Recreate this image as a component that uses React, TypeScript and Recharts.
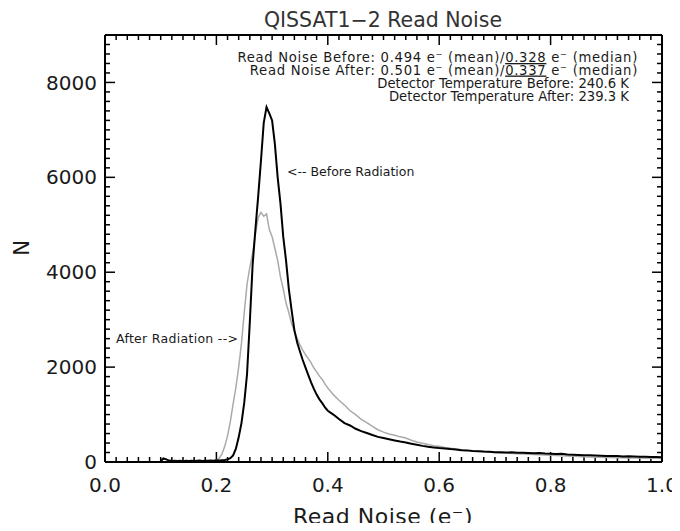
import { LineChart, Line, XAxis, YAxis, ReferenceLine } from 'recharts';

// read noise bins (e-)
const readNoise = [
    0.1, 0.105, 0.11, 0.115, 0.12, 0.125, 0.13, 0.135, 0.14, 0.145,
    0.15, 0.155, 0.16, 0.165, 0.17, 0.175, 0.18, 0.185, 0.19, 0.195,
    0.2, 0.205, 0.21, 0.215, 0.22, 0.225, 0.23, 0.235, 0.24, 0.245,
    0.25, 0.255, 0.26, 0.265, 0.27, 0.275, 0.28, 0.285, 0.29, 0.295,
    0.3, 0.305, 0.31, 0.315, 0.32, 0.325, 0.33, 0.335, 0.34, 0.345,
    0.35, 0.355, 0.36, 0.365, 0.37, 0.375, 0.38, 0.385, 0.39, 0.395,
    0.4,
    0.41, 0.42, 0.43, 0.44, 0.45, 0.46, 0.47, 0.48, 0.49, 0.5,
    0.51, 0.52, 0.53, 0.54, 0.55, 0.56, 0.57, 0.58, 0.59, 0.6,
    0.61, 0.62, 0.63, 0.64, 0.65, 0.66, 0.67, 0.68, 0.69, 0.7,
    0.71, 0.72, 0.73, 0.74, 0.75, 0.76, 0.77, 0.78, 0.79, 0.8,
    0.81, 0.82, 0.83, 0.84, 0.85, 0.86, 0.87, 0.88, 0.89, 0.9,
    0.91, 0.92, 0.93, 0.94, 0.95, 0.96, 0.97, 0.98, 0.99, 1.0,
];

const beforeRadiation = [
    20, 75, 55, 30, 22, 28, 20, 25, 18, 26,
    22, 28, 20, 25, 30, 22, 28, 25, 32, 28,
    35, 30, 38, 42, 55, 80, 140, 280, 520, 820,
    1250, 1850, 2950, 4150, 4900, 5600, 6350, 7150, 7480, 7350,
    7200, 6700, 6000, 5450, 4750, 4250, 3650, 3200, 2780, 2520,
    2330, 2150, 1990, 1830, 1680, 1540, 1420, 1320, 1240, 1150,
    1080,
    1000, 905, 820, 770, 700, 650, 610, 570, 530, 505,
    480, 455, 430, 410, 385, 362, 340, 322, 308, 295,
    285, 272, 265, 250, 245, 232, 228, 220, 215, 208,
    205, 200, 203, 196, 195, 190, 185, 188, 178, 176,
    170, 172, 160, 155, 150, 142, 140, 135, 132, 128,
    127, 125, 118, 120, 115, 112, 110, 106, 104, 100,
];

const afterRadiation = [
    null, null, null, null, null, null, null, null, null, null,
    null, null, null, null, null, null, 20, 22, 25, 28,
    40, 80, 170, 330, 550, 850, 1220, 1570, 2000, 2500,
    3150, 3750, 4100, 4400, 4800, 5150, 5260, 5180, 5230, 4900,
    4750, 4500, 4250, 3900, 3650, 3350, 3150, 2920, 2750, 2600,
    2470, 2360, 2260, 2180, 2090, 1980, 1900, 1810, 1740, 1640,
    1560,
    1420, 1300, 1200, 1080, 1000, 900, 830, 750, 680, 630,
    590, 565, 530, 505, 460, 420, 395, 370, 345, 330,
    305, 290, 272, 258, 245, 232, 225, 218, 208, 200,
    192, 188, 180, 172, 168, 162, 158, 152, 148, 142,
    135, 130, 125, 120, 115, 110, 108, 102, 100, 96,
    94, 90, 88, 86, 84, 82, 80, 78, 78, 76,
];

const xMajorTicks = [0, 0.2, 0.4, 0.6, 0.8, 1.0];
const yMajorTicks = [0, 2000, 4000, 6000, 8000];
const xMinorTicks = Array.from({ length: 51 }, (_, i) => (i * 2) / 100);
const yMinorTicks = Array.from({ length: 46 }, (_, i) => i * 200);

const X_MAX = 1;
const Y_MAX = 9000;

const data = readNoise.map((x, i) => ({ x, before: beforeRadiation[i], after: afterRadiation[i] }));

const FONT = '"DejaVu Sans", sans-serif';
const INK = '#1a1a1a';

// inward tick lengths: 10px major / 5px minor on a 557 x 427 px plot
const xTickLen = (v: number) => (Math.abs(v * 5 - Math.round(v * 5)) < 1e-6 ? 10 : 5) * (Y_MAX / 427);
const yTickLen = (v: number) => (v % 2000 === 0 ? 10 : 5) * (X_MAX / 557);

const axisLineStyle = { stroke: '#000', strokeWidth: 2 };
const labelStyle = { fill: INK, fontSize: 20, fontFamily: FONT };

export default function App() {
    const tickProps = { stroke: '#000', strokeWidth: 1.5, ifOverflow: 'visible' as const };
    return (
        <div style={{ position: 'relative', width: 672, height: 523, marginBottom: -8 }}>
            <LineChart width={672} height={523} data={data} margin={{ top: 0, right: 0, bottom: 0, left: 0 }}>
                <XAxis
                    dataKey="x"
                    type="number"
                    domain={[0, X_MAX]}
                    allowDataOverflow
                    ticks={xMajorTicks}
                    interval={0}
                    height={69}
                    tickSize={0}
                    tickMargin={16}
                    tickLine={false}
                    axisLine={axisLineStyle}
                    tick={labelStyle}
                    tickFormatter={(v: number) => v.toFixed(1)}
                />
                <XAxis
                    xAxisId="top"
                    orientation="top"
                    dataKey="x"
                    type="number"
                    domain={[0, X_MAX]}
                    allowDataOverflow
                    height={27}
                    tickLine={false}
                    axisLine={axisLineStyle}
                    tick={false}
                />
                <YAxis
                    type="number"
                    domain={[0, Y_MAX]}
                    allowDataOverflow
                    ticks={yMajorTicks}
                    interval={0}
                    width={97}
                    tickSize={0}
                    tickMargin={8}
                    tickLine={false}
                    axisLine={axisLineStyle}
                    tick={labelStyle}
                />
                <YAxis
                    yAxisId="right"
                    orientation="right"
                    type="number"
                    domain={[0, Y_MAX]}
                    allowDataOverflow
                    width={18}
                    tickLine={false}
                    axisLine={axisLineStyle}
                    tick={false}
                />
                {xMinorTicks.map((v) => (
                    <ReferenceLine key={`xb${v}`} segment={[{ x: v, y: 0 }, { x: v, y: xTickLen(v) }]} {...tickProps} />
                ))}
                {xMinorTicks.map((v) => (
                    <ReferenceLine key={`xt${v}`} segment={[{ x: v, y: Y_MAX }, { x: v, y: Y_MAX - xTickLen(v) }]} {...tickProps} />
                ))}
                {yMinorTicks.map((v) => (
                    <ReferenceLine key={`yl${v}`} segment={[{ x: 0, y: v }, { x: yTickLen(v), y: v }]} {...tickProps} />
                ))}
                {yMinorTicks.map((v) => (
                    <ReferenceLine key={`yr${v}`} segment={[{ x: X_MAX, y: v }, { x: X_MAX - yTickLen(v), y: v }]} {...tickProps} />
                ))}
                <Line dataKey="after" stroke="#aaaaaa" strokeWidth={1.5} dot={false} isAnimationActive={false} type="linear" />
                <Line dataKey="before" stroke="#000000" strokeWidth={2} dot={false} isAnimationActive={false} type="linear" />
            </LineChart>
            <svg
                width={672}
                height={523}
                style={{ position: 'absolute', left: 0, top: 0, pointerEvents: 'none' }}
                fontFamily={FONT}
                fill={INK}
            >
                <text x={375} y={19} textAnchor="middle" fontSize={20.5} fill="#333">QISSAT1−2 Read Noise</text>
                <g fontSize={13.2} textAnchor="end">
                    <text x={630} y={54} letterSpacing={0.7}>
                        Read Noise Before: 0.494 e⁻ (mean)/<tspan textDecoration="underline">0.328</tspan> e⁻ (median)
                    </text>
                    <text x={630} y={66.5} letterSpacing={0.7}>
                        Read Noise After: 0.501 e⁻ (mean)/<tspan textDecoration="underline">0.337</tspan> e⁻ (median)
                    </text>
                    <text x={621} y={79.5}>Detector Temperature Before: 240.6 K</text>
                    <text x={621} y={92.5}>Detector Temperature After: 239.3 K</text>
                </g>
                <text x={279} y={168} fontSize={12.5}>{'<-- Before Radiation'}</text>
                <text x={108} y={335} fontSize={12.5} letterSpacing={0.3}>{'After Radiation -->'}</text>
                <text x={375} y={516} textAnchor="middle" fontSize={22} letterSpacing={0.5}>Read Noise (e⁻)</text>
                <text transform="translate(21,240) rotate(-90)" textAnchor="middle" fontSize={21}>N</text>
            </svg>
        </div>
    );
}
